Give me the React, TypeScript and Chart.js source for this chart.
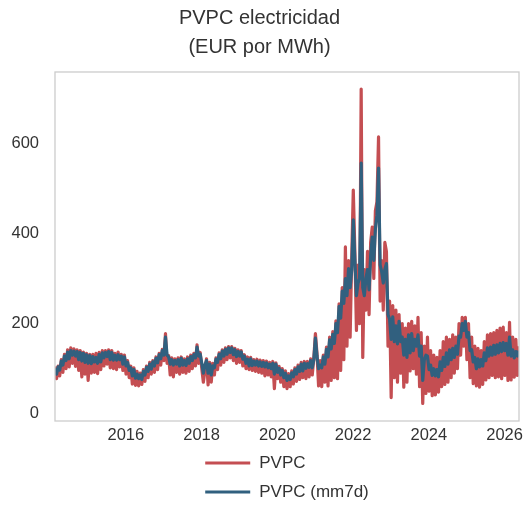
import React, { useEffect, useRef } from "react";
import { Chart, registerables } from "chart.js";

Chart.register(...registerables);

// ---- data -----------------------------------------------------------
const titleLines = ["PVPC electricidad", "(EUR por MWh)"];
const seriesNames = ["PVPC", "PVPC (mm7d)"];
// semi-monthly samples, first sample at decimal year 2014.13
const startYear = 2014.13;
const stepYears = 1 / 24;
const xTickYears = [2016, 2018, 2020, 2022, 2024, 2026];
const yTickValues = [0, 200, 400, 600];
const xMin = 2014.13;
const xMax = 2026.38;
const yMin = -16;
const yMax = 758;

// PVPC daily price (EUR/MWh), sampled
const pvpc = [
  // 2014
  105, 78, 106, 84, 120, 92, 132, 100, 142, 104, 146, 112, 144, 105, 142, 96, 140, 82, 137, 88, 134, 74, 132, 90,
  // 2015
  132, 92, 134, 89, 136, 98, 140, 106, 140, 110, 142, 102, 140, 100, 134, 98, 137, 104, 132, 96, 130, 88, 118, 80,
  // 2016
  106, 66, 102, 63, 94, 62, 90, 65, 98, 72, 106, 80, 114, 88, 118, 92, 126, 98, 134, 108, 143, 118, 178, 112,
  // 2017
  129, 86, 124, 82, 122, 92, 124, 88, 126, 92, 122, 90, 126, 94, 130, 100, 134, 106, 153, 112, 136, 100, 70, 96,
  // 2018
  122, 64, 114, 70, 112, 86, 124, 98, 135, 108, 142, 114, 146, 120, 149, 124, 149, 118, 145, 112, 142, 114, 140, 106,
  // 2019
  131, 100, 126, 98, 125, 96, 120, 94, 121, 92, 119, 90, 118, 84, 117, 86, 114, 82, 116, 56, 113, 78, 105, 70,
  // 2020
  100, 60, 95, 56, 89, 60, 95, 66, 102, 72, 108, 76, 114, 80, 116, 78, 116, 82, 122, 86, 124, 178, 134, 62,
  // 2021
  118, 60, 130, 70, 148, 62, 170, 74, 182, 80, 206, 78, 244, 96, 280, 120, 370, 150, 340, 170, 345, 496, 360, 185,
  // 2022
  330, 200, 720, 125, 320, 230, 360, 220, 380, 414, 300, 450, 470, 614, 250, 340, 230, 380, 360, 150, 250, 36, 240, 80,
  // 2023
  230, 70, 220, 90, 200, 59, 190, 70, 200, 95, 205, 100, 195, 88, 214, 60, 180, 23, 150, 45, 170, 50, 140, 40,
  // 2024
  130, 42, 125, 48, 140, 60, 160, 65, 170, 70, 165, 80, 175, 90, 170, 100, 200, 130, 214, 150, 214, 120, 200, 80,
  // 2025
  170, 67, 150, 62, 145, 59, 140, 65, 160, 75, 175, 80, 178, 85, 180, 80, 185, 82, 190, 78, 192, 85, 180, 74,
  // 2026
  203, 75, 170, 81, 165, 85, 150,
];

// PVPC 7-day moving average (EUR/MWh), sampled
const pvpcMm7d = [
  // 2014
  101, 88, 104, 97, 117, 108, 128, 118, 137, 122, 140, 130, 139, 128, 138, 120, 136, 117, 134, 114, 131, 112, 129, 111,
  // 2015
  127, 115, 125, 112, 132, 115, 135, 124, 136, 127, 138, 120, 136, 119, 130, 119, 131, 120, 128, 110, 126, 106, 114, 96,
  // 2016
  102, 84, 98, 79, 88, 78, 86, 76, 94, 86, 103, 94, 110, 99, 115, 106, 123, 113, 131, 122, 140, 130, 170, 130,
  // 2017
  126, 110, 120, 108, 118, 110, 120, 106, 123, 108, 118, 107, 122, 112, 127, 118, 131, 124, 148, 128, 132, 112, 90, 108,
  // 2018
  118, 90, 110, 86, 106, 102, 121, 114, 132, 122, 139, 128, 143, 132, 146, 136, 146, 131, 142, 127, 138, 128, 137, 121,
  // 2019
  128, 112, 121, 106, 122, 107, 117, 108, 117, 106, 115, 105, 114, 104, 113, 102, 110, 100, 112, 88, 110, 92, 101, 86,
  // 2020
  96, 80, 90, 74, 84, 76, 91, 82, 98, 88, 104, 94, 110, 95, 112, 101, 111, 103, 118, 102, 120, 168, 128, 100,
  // 2021
  108, 102, 126, 110, 143, 126, 164, 144, 176, 156, 200, 180, 238, 212, 272, 245, 300, 262, 322, 280, 320, 430, 340, 262,
  // 2022
  290, 300, 556, 280, 262, 300, 320, 275, 350, 392, 340, 410, 440, 545, 330, 315, 290, 320, 333, 220, 210, 165, 215, 160,
  // 2023
  195, 155, 205, 160, 170, 130, 165, 125, 175, 135, 178, 140, 165, 150, 175, 128, 150, 74, 120, 130, 128, 98, 108, 85,
  // 2024
  100, 84, 98, 82, 115, 96, 125, 105, 135, 110, 142, 120, 145, 125, 150, 132, 172, 170, 200, 185, 205, 170, 180, 140,
  // 2025
  142, 115, 125, 100, 122, 104, 120, 106, 135, 118, 146, 128, 148, 130, 152, 132, 153, 135, 156, 138, 158, 140, 156, 130,
  // 2026
  170, 128, 142, 124, 138, 128, 140,
];

// ---- styling --------------------------------------------------------
const FONT = "'Liberation Sans', Arial, Helvetica, sans-serif";
const TEXT = "#333333";
const RED = "#c44e52";
const BLUE = "#31607f";
const FRAME = "#cccccc";

const toPoints = (vals: number[]) =>
  vals.map((v, i) => ({ x: startYear + i * stepYears, y: v }));

const framePlugin = {
  id: "frame",
  afterDatasetsDraw(chart: any) {
    const { ctx, chartArea: a } = chart;
    ctx.save();
    ctx.strokeStyle = FRAME;
    ctx.lineWidth = 1.3;
    ctx.strokeRect(a.left, a.top, a.right - a.left, a.bottom - a.top);
    ctx.restore();
  },
};

const legendPlugin = {
  id: "bottomLegend",
  afterDraw(chart: any) {
    const { ctx, chartArea: a } = chart;
    ctx.save();
    ctx.font = `17px ${FONT}`;
    const lineLen = 45;
    const gap = 9;
    const sets = chart.data.datasets;
    const widths = sets.map((d: any) => ctx.measureText(d.label).width);
    const blockW = lineLen + gap + Math.max(...widths);
    const x0 = (a.left + a.right) / 2 - blockW / 2;
    sets.forEach((d: any, k: number) => {
      const y = a.bottom + 42 + k * 29;
      ctx.strokeStyle = d.borderColor;
      ctx.lineWidth = 3;
      ctx.lineCap = "butt";
      ctx.beginPath();
      ctx.moveTo(x0, y);
      ctx.lineTo(x0 + lineLen, y);
      ctx.stroke();
      ctx.fillStyle = TEXT;
      ctx.textBaseline = "middle";
      ctx.textAlign = "left";
      ctx.fillText(d.label, x0 + lineLen + gap, y);
    });
    ctx.restore();
  },
};

export default function App() {
  const ref = useRef<HTMLCanvasElement | null>(null);

  useEffect(() => {
    if (!ref.current) return;
    const chart = new Chart(ref.current, {
      type: "line",
      data: {
        datasets: [
          {
            label: seriesNames[0],
            data: toPoints(pvpc),
            borderColor: RED,
            backgroundColor: RED,
            borderWidth: 3.2,
            pointRadius: 0,
            borderJoinStyle: "round",
            order: 1,
          },
          {
            label: seriesNames[1],
            data: toPoints(pvpcMm7d),
            borderColor: BLUE,
            backgroundColor: BLUE,
            borderWidth: 3.2,
            pointRadius: 0,
            borderJoinStyle: "round",
            order: 0,
          },
        ],
      },
      options: {
        animation: false,
        responsive: false,
        events: [],
        layout: { padding: { left: 0, right: 8, top: 0, bottom: 55 } },
        plugins: {
          legend: { display: false },
          tooltip: { enabled: false },
          title: {
            display: true,
            text: titleLines,
            color: TEXT,
            font: { family: FONT, size: 20, weight: "normal", lineHeight: 1.45 },
            padding: { top: 4, bottom: 10 },
          },
        },
        scales: {
          x: {
            type: "linear",
            min: xMin,
            max: xMax,
            grid: { display: false, drawTicks: false },
            border: { display: false },
            ticks: {
              padding: 5,
              color: TEXT,
              font: { family: FONT, size: 16.5 },
              callback: (v: any) => String(v),
            },
            afterBuildTicks: (s: any) => {
              s.ticks = xTickYears.map((v) => ({ value: v }));
            },
            afterFit: (s: any) => {
              s.height = 30;
              s.paddingLeft = 0;
              s.paddingRight = 0;
            },
          },
          y: {
            type: "linear",
            min: yMin,
            max: yMax,
            grid: { display: false, drawTicks: false },
            border: { display: false },
            ticks: {
              padding: 16,
              color: TEXT,
              font: { family: FONT, size: 16.5 },
              callback: (v: any) => String(v),
            },
            afterBuildTicks: (s: any) => {
              s.ticks = yTickValues.map((v) => ({ value: v }));
            },
            afterFit: (s: any) => {
              s.width = 55;
              s.paddingTop = 0;
              s.paddingBottom = 0;
            },
          },
        },
      } as any,
      plugins: [framePlugin, legendPlugin],
    });
    return () => chart.destroy();
  }, []);

  return (
    <div style={{ position: "fixed", left: 0, top: 0, width: 527, height: 506, background: "#ffffff" }}>
      <canvas ref={ref} width={527} height={506} style={{ display: "block" }} />
    </div>
  );
}
